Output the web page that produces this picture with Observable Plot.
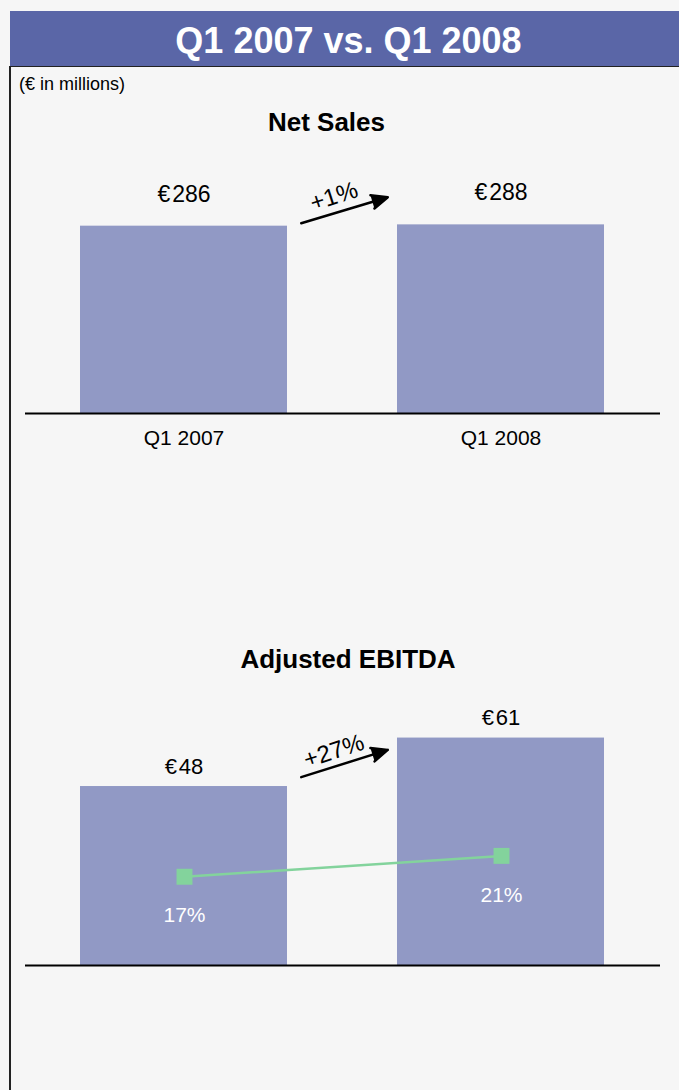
<!DOCTYPE html>
<html>
<head>
<meta charset="utf-8">
<script src="https://cdn.jsdelivr.net/npm/d3@7"></script>
<script src="https://cdn.jsdelivr.net/npm/@observablehq/plot@0.6"></script>
<style>
  html, body { margin: 0; padding: 0; }
  body { width: 679px; height: 1090px; position: relative; overflow: hidden;
         background: #f6f6f6; font-family: "Liberation Sans", Arial, sans-serif; }
  #header { position: absolute; left: 10px; top: 11px; width: 661px; height: 55px;
            padding-left: 8px; background: #5a66a7; color: #fff; font-weight: bold;
            font-size: 36px; line-height: 55px; text-align: center; box-sizing: content-box; }
  #header span { position: relative; top: 2px; }
  #frame { position: absolute; left: 9px; top: 66px; width: 670px; height: 1030px;
           border-left: 2px solid #222; border-top: 1px solid #222; box-sizing: border-box; }
  #note { position: absolute; left: 19px; top: 74px; font-size: 18px; color: #000; }
  .title { position: absolute; left: 0; font-size: 26px; font-weight: bold; line-height: 30px;
           text-align: center; color: #000; z-index: 2; }
  .chart { position: absolute; left: 0; }
</style>
</head>
<body>
<div id="header"><span>Q1 2007 vs. Q1 2008</span></div>
<div id="frame"></div>
<div id="note">(€ in millions)</div>
<div class="title" id="t1" style="top:107px;width:653px">Net Sales</div>
<div class="title" id="t2" style="top:644px;width:696px">Adjusted EBITDA</div>
<div class="chart" id="c1" style="top:100px"></div>
<div class="chart" id="c2" style="top:680px"></div>
<div class="chart" id="c3" style="top:680px"></div>
<script>
const periods = ["Q1 2007", "Q1 2008"];
const netSales = [286, 288];
const ebitda = [48, 61];
const ebitdaMargin = [17, 21];
const netSalesChange = ["+1%"];
const ebitdaChange = ["+27%"];

const barColor = "#9199c5";
const green = "#83d39c";
const font = "Liberation Sans, Arial, sans-serif";

const salesRows = periods.map((p, i) => ({period: p, value: netSales[i]}));
const ebitdaRows = periods.map((p, i) => ({period: p, value: ebitda[i], margin: ebitdaMargin[i]}));

const xScale = {domain: periods, paddingInner: 0.347, paddingOuter: 0.174};
const common = {
  width: 679, height: 360, marginLeft: 25, marginRight: 19,
  style: {background: "transparent", fontFamily: font, color: "#000", overflow: "visible"}
};
const euro = v => "€\u200A" + v;

// Net Sales
const p1 = Plot.plot({
  ...common,
  marginTop: 51, marginBottom: 47,
  x: {...xScale, label: null},
  y: {domain: [0, 400], axis: null},
  marks: [
    Plot.barY(salesRows, {x: "period", y: "value", fill: barColor}),
    Plot.ruleY([0], {stroke: "#000", strokeWidth: 2}),
    Plot.axisX({tickSize: 0, tickPadding: 17, fontSize: 21, label: null}),
    Plot.text(salesRows, {x: "period", y: "value", text: d => euro(d.value), dy: -32,
      fontSize: 23, lineAnchor: "middle", fill: "#000"}),
    Plot.arrow([{from: periods[0], to: periods[1]}], {x1: "from", x2: "to", y1: 236.8, y2: 382.1,
      insetStart: 122.4, insetEnd: 118.2, stroke: "#000", fill: "#000", strokeWidth: 2.5,
      headLength: 10.5, headAngle: 47}),
    Plot.text(netSalesChange, {x: () => periods[0], y: 331.3, dx: 150, text: d => d,
      rotate: -18, fontSize: 24, lineAnchor: "middle", fill: "#000"})
  ]
});
document.getElementById("c1").appendChild(p1);

// Adjusted EBITDA bars
const p2 = Plot.plot({
  ...common,
  marginTop: 24, marginBottom: 75,
  x: {...xScale, axis: null},
  y: {domain: [0, 70], axis: null},
  marks: [
    Plot.barY(ebitdaRows, {x: "period", y: "value", fill: barColor}),
    Plot.ruleY([0], {stroke: "#000", strokeWidth: 2}),
    Plot.text(ebitdaRows, {x: "period", y: "value", text: d => euro(d.value), dy: -20,
      fontSize: 22, lineAnchor: "middle", fill: "#000"}),
    Plot.arrow([{from: periods[0], to: periods[1]}], {x1: "from", x2: "to", y1: 40.6, y2: 67.4,
      insetStart: 122.9, insetEnd: 118.7, stroke: "#000", fill: "#000", strokeWidth: 2.5,
      headLength: 10.5, headAngle: 47}),
    Plot.text(ebitdaChange, {x: () => periods[0], y: 57.5, dx: 150, text: d => d,
      rotate: -18, fontSize: 24, lineAnchor: "middle", fill: "#000"})
  ]
});
document.getElementById("c2").appendChild(p2);

// EBITDA margin line (own percent scale)
const p3 = Plot.plot({
  ...common,
  marginTop: 24, marginBottom: 75,
  x: {...xScale, axis: null},
  y: {domain: [0, 50], axis: null},
  marks: [
    Plot.line(ebitdaRows, {x: "period", y: "margin", stroke: green, strokeWidth: 2.5}),
    Plot.dot(ebitdaRows, {x: "period", y: "margin", symbol: "square", r: 9, fill: green, stroke: "none"}),
    Plot.text(ebitdaRows, {x: "period", y: "margin", text: d => d.margin + "%", dy: 39,
      fontSize: 21, lineAnchor: "middle", fill: "#fff"})
  ]
});
document.getElementById("c3").appendChild(p3);
</script>
</body>
</html>
